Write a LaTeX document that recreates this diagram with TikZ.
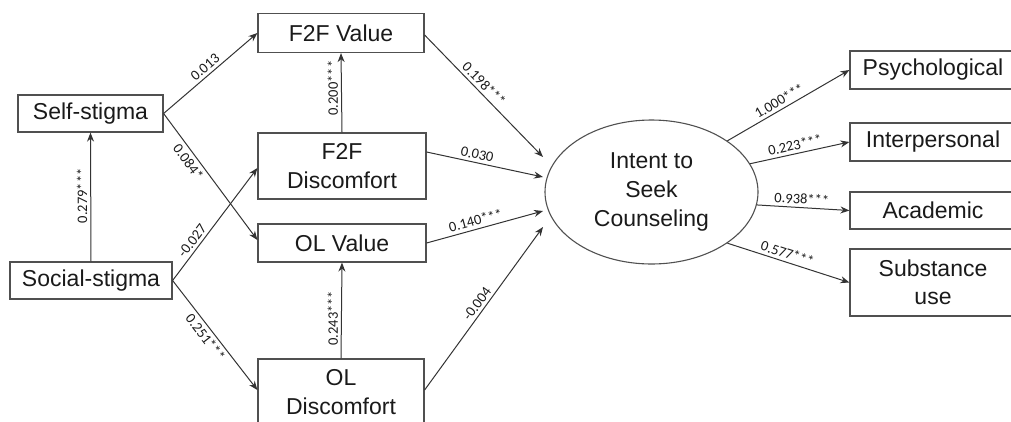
\documentclass[tikz,border=0pt]{standalone}
\usepackage{fontspec}
\setmainfont{Liberation Sans}
\newfontfamily\labfont{Carlito}
\usetikzlibrary{shapes.geometric,arrows.meta}
\definecolor{edgecol}{HTML}{333333}
\definecolor{boxcol}{HTML}{505050}
\definecolor{txtcol}{HTML}{1A1A1A}
\tikzset{
  box/.style={draw=boxcol, line width=1.2pt, inner sep=0pt, align=center, text=txtcol,
    font=\fontsize{23}{28.5}\selectfont},
  lat/.style={ellipse, draw=boxcol, line width=1.1pt, inner sep=0pt, align=center, text=txtcol,
    minimum width=213pt, minimum height=144pt, font=\fontsize{23}{29}\selectfont},
  path/.style={draw=edgecol, line width=1pt, -{Stealth[length=9pt,width=7pt]}},
  lab/.style={font=\labfont\fontsize{14.5}{14.5}\selectfont, text=txtcol, inner sep=3pt, sloped},
  vlab/.style={font=\labfont\fontsize{14.5}{14.5}\selectfont, text=txtcol, inner sep=3pt, rotate=90, anchor=south}
}
\begin{document}
\begin{tikzpicture}[x=1pt,y=1pt]
\useasboundingbox (0,-421) rectangle (1011,0);
\clip (0,-421) rectangle (1011,0);
% nodes
\node[box, minimum width=145pt, minimum height=37pt] (self) at (90.5,-113.5) {Self-stigma};
\node[box, minimum width=162pt, minimum height=37pt] (social) at (91,-280.5) {Social-stigma};
\node[box, minimum width=166pt, minimum height=39pt] (f2fv) at (341,-33) {F2F Value};
\node[box, minimum width=168pt, minimum height=66pt] (f2fd) at (342,-166) {F2F\\Discomfort};
\node[box, minimum width=168pt, minimum height=38pt] (olv) at (342,-243) {OL Value};
\node[box, minimum width=166pt, minimum height=66pt] (old) at (341,-392) {OL\\Discomfort};
\node[lat] (ell) at (651.5,-192) {Intent to\\Seek\\Counseling};
\node[box, minimum width=166pt, minimum height=38pt] (psych) at (933,-70) {Psychological};
\node[box, minimum width=166pt, minimum height=38pt] (inter) at (933,-142) {Interpersonal};
\node[box, minimum width=166pt, minimum height=37pt] (acad) at (933,-210.5) {Academic};
\node[box, minimum width=166pt, minimum height=67pt] (subst) at (933,-282.5) {Substance\\use};
% arrow ends near the ellipse
\coordinate (t1) at (543,-157);
\coordinate (t2) at (543,-177);
\coordinate (t3) at (543,-211);
\coordinate (t4) at (543,-227);
% connectors
\draw[path] (self.east) -- node[lab, above, pos=0.5] {0.013} (f2fv.west);
\draw[path] (self.east) -- node[lab, below, pos=0.34] {0.084*} ([yshift=3pt]olv.west);
\draw[path] (social.north) -- node[vlab, pos=0.51] {0.279***} (self.south);
\draw[path] (social.east) -- node[lab, above, pos=0.31] {-0.027} ([yshift=-2pt]f2fd.west);
\draw[path] (social.east) -- node[lab, below, pos=0.47] {0.251***} ([yshift=2pt]old.west);
\draw[path] (f2fd.north) -- node[vlab, pos=0.56] {0.200***} (f2fv.south);
\draw[path] (old.north) -- node[vlab, pos=0.42] {0.243***} (olv.south);
\draw[path] ([yshift=-2pt]f2fv.east) -- node[lab, above, pos=0.45] {0.198***} (t1);
\draw[path] ([yshift=14pt]f2fd.east) -- node[lab, above, pos=0.42] {0.030} (t2);
\draw[path] (olv.east) -- node[lab, above, pos=0.44] {0.140***} (t3);
\draw[path] ([yshift=2pt]old.east) -- node[lab, above, pos=0.5] {-0.004} (t4);
\draw[path] (ell.34) -- node[lab, above, pos=0.46] {1.000***} (psych.west);
\draw[path] (ell.16) -- node[lab, above, pos=0.47] {0.223***} (inter.west);
\draw[path] (ell.-7.5) -- node[lab, above, pos=0.48] {0.938***} (acad.west);
\draw[path] (ell.-34) -- node[lab, above, pos=0.47] {0.577***} (subst.west);
\end{tikzpicture}
\end{document}
